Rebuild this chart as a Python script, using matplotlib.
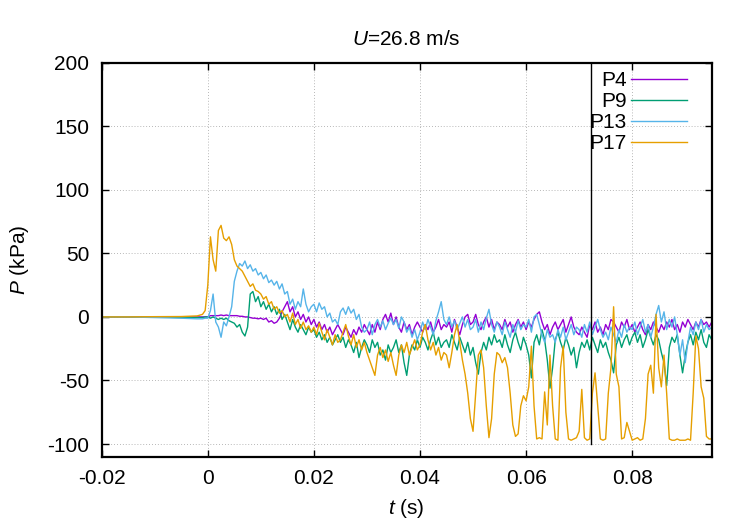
import numpy as np
import matplotlib
matplotlib.use("Agg")
import matplotlib.pyplot as plt

plt.rcParams["font.family"] = ["Liberation Sans", "DejaVu Sans"]
plt.rcParams["mathtext.fontset"] = "custom"
plt.rcParams["mathtext.rm"] = "Liberation Sans"
plt.rcParams["mathtext.it"] = "Liberation Sans:italic"
plt.rcParams["axes.unicode_minus"] = False

# times before the trigger (ms), sparse since the signal is flat there
t_pre_ms = [-20, -15, -10, -5, -2, -1, -0.5]
# after the trigger: one sample every 0.5 ms from 0 to 95 ms
t_post_ms = np.arange(0, 95.25, 0.5)

p4_pre = [0, 0, 0, 0, 0, 0, 0]
p9_pre = [0, 0, 0, -0.5, -0.5, -0.5, 0]
p13_pre = [0, 0, -0.5, -1, -1.5, -1.5, -1]
p17_pre = [0, 0, 0.2, 0.3, 0.8, 2, 5]

p4 = [0, 1, 1, 1, 1, 1.5, 1, 1.5, 1, 1,
      1, 1, 0.5, 0.5, 0, 0, -0.5, -1, -1, -1.5,
      -1, -2, -1, -4, -3, -5, -4, -1, 4, 8,
      12, 4, 8, 0, 4, -2, 2, -4, 0, -6,
      -2, -8, -4, -10, -6, -12, -8, -14, -10, -6,
      -10, -14, -8, -12, -16, -10, -14, -8, -12, -6,
      -10, -14, -6, -12, -4, -10, -2, 2, -4, 3,
      -6, 0, -8, -12, -4, -10, -6, -14, -8, -4,
      -8, -12, -6, -10, -4, -12, -8, -2, -10, -6,
      -8, -4, -12, -2, -8, -14, -6, 0, 2, -6,
      -4, 2, -6, -10, -4, 0, -8, -2, -10, -4,
      -6, -10, -2, -8, -4, -12, -6, -2, -8, -4,
      -10, -4, -8, -2, 2, 4, -4, -10, -6, -14,
      -8, -4, -10, -6, -2, -12, -6, 0, -8, -12,
      -14, -8, -12, -16, -6, -10, -4, -12, -8, -14,
      -6, -10, -2, -4, -8, -12, -4, -8, -2, -10,
      -6, -12, -8, -4, -10, -14, -6, -10, -4, -8,
      -12, -6, -10, -4, -8, -2, -10, -6, -12, -4,
      -8, -2, -6, -10, -4, -8, -2, -6, -4, -8,
      -4]

p9 = [0, -1, 0, -1, -2, -1, -2, -1, -3, -4,
      -5, -8, -6, -12, -15, -8, 18, 20, 12, 16,
      8, 12, 6, 10, 4, 8, 2, 6, -2, 2,
      -4, -10, -2, -8, -12, -6, -10, -14, -8, -12,
      -10, -16, -12, -18, -14, -20, -16, -22, -18, -14,
      -20, -16, -24, -18, -22, -28, -20, -32, -24, -18,
      -22, -28, -18, -24, -20, -30, -26, -34, -22, -28,
      -24, -18, -28, -22, -36, -46, -30, -22, -26, -18,
      -24, -16, -20, -26, -18, -12, -22, -16, -24, -20,
      -18, -24, -14, -20, -26, -16, -22, -28, -20, -30,
      -24, -36, -45, -28, -20, -26, -16, -22, -14, -20,
      -18, -24, -14, -22, -28, -18, -12, -20, -26, -16,
      -22, -30, -48, -20, -14, -22, -10, -18, -34, -56,
      -40, -18, -12, -20, -26, -16, -22, -30, -24, -40,
      -28, -20, -24, -18, -26, -16, -22, -28, -18, -24,
      -20, -28, -34, -44, -22, -16, -24, -18, -14, -22,
      -16, -12, -20, -14, -24, -18, -10, -16, -22, -14,
      -18, -28, -36, -54, -24, -16, -20, -14, -30, -44,
      -30, -20, -14, -22, -12, -18, -10, -20, -24, -14,
      -18]

p13 = [-1, 5, 18, -4, -8, -16, -4, -7, 0, 8,
       28, 36, 42, 40, 44, 38, 41, 36, 38, 33,
       35, 30, 33, 27, 29, 25, 28, 22, 26, 18,
       20, 10, 14, 6, 12, 8, 22, 10, 4, 8,
       10, 4, 11, 6, 8, 0, 3, -4, -2, -6,
       4, 7, 2, 8, 3, 6, -2, 2, -8, -12,
       -10, -4, -14, -6, -2, -8, -3, -10, -5, -1,
       -6, -2, -9, 0, -4, -12, -8, -16, -10, -18,
       -12, -4, -10, -2, -8, -14, -3, 4, 12, -2,
       -6, 0, -8, -3, -10, -5, 0, -8, -2, -10,
       -8, -2, -12, -4, -10, -1, 6, -6, -12, -4,
       -8, -14, -4, -10, -16, -6, -12, -3, -10, -6,
       -8, -2, -12, 0, 2, -6, -14, -20, -10, -16,
       -14, -20, -10, -16, -8, -18, -12, -6, -14, -8,
       -10, -16, -6, -12, -4, -14, -8, -2, -10, -16,
       -12, -18, -8, -14, -20, -10, -16, -6, -12, -8,
       -10, -4, -14, -8, -2, -12, -6, -16, -8, 2,
       9, -4, 4, -10, -2, -8, 0, -14, -30, -18,
       -36, -20, -8, -14, -4, -10, -2, -12, -6, -10,
       -8]

p17 = [25, 63, 45, 36, 68, 72, 62, 60, 63, 57,
       45, 40, 38, 36, 32, 28, 24, 26, 21, 20,
       18, 14, 16, 10, 12, 6, 8, 3, 5, 0,
       2, -4, 3, -6, -2, -9, -4, -10, -7, -12,
       -8, -14, -5, -12, -18, -10, -16, -22, -14, -20,
       -18, -12, -6, -15, -22, -14, -24, -18, -26, -20,
       -28, -34, -40, -46, -30, -24, -32, -26, -35, -28,
       -38, -46, -30, -22, -28, -20, -30, -24, -18, -26,
       -22, -12, -6, -18, -26, -20, -30, -24, -34, -28,
       -30, -40, -28, -14, -6, -20, -34, -45, -60, -80,
       -90, -60, -30, -26, -40, -70, -95, -80, -45, -28,
       -30, -36, -32, -40, -60, -85, -94, -92, -70, -62,
       -66, -55, -23, -70, -96, -95, -96, -59, -85, -30,
       -70, -96, -97, -40, -23, -75, -96, -97, -96, -95,
       -90, -57, -95, -97, -96, -60, -44, -70, -96, -97,
       -96, -60, -40, 8, -45, -55, -96, -95, -83, -90,
       -97, -96, -95, -97, -96, -80, -45, -38, -60, 2,
       -40, -55, -30, -60, -96, -97, -97, -96, -97, -97,
       -97, -96, -97, -60, -15, -25, -55, -64, -94, -96,
       -96]

series = [("P4", p4_pre, p4, "#9400d3"),
          ("P9", p9_pre, p9, "#009e73"),
          ("P13", p13_pre, p13, "#56b4e9"),
          ("P17", p17_pre, p17, "#e69f00")]

x_ticks = [-0.02, 0, 0.02, 0.04, 0.06, 0.08]
x_tick_labels = ["-0.02", "0", "0.02", "0.04", "0.06", "0.08"]
y_ticks = [-100, -50, 0, 50, 100, 150, 200]

marker_t = 0.0722  # vertical black line
marker_p = [-100, 200]

fig = plt.figure(figsize=(7.5, 5.25), dpi=100)
ax = fig.add_axes([0.1356, 0.130, 0.8134, 0.7506])

t_all = np.concatenate([t_pre_ms, t_post_ms]) / 1000.0
for name, pre, post, col in series:
    vals = np.array(pre + post, dtype=float)
    ax.plot(t_all, vals, color=col, lw=1.0, label=name)

ax.plot([marker_t, marker_t], marker_p, color="black", lw=1.0)

ax.set_xlim(-0.02, 0.095)
ax.set_ylim(-110, 200)
ax.set_xticks(x_ticks)
ax.set_xticklabels(x_tick_labels)
ax.set_yticks(y_ticks)
ax.tick_params(direction="in", length=5, width=1, top=True, right=True,
               labelsize=15, pad=9)
ax.grid(True, color="#a0a0a0", lw=0.6, linestyle=(0, (1, 2.5)))
for s in ax.spines.values():
    s.set_linewidth(1.6)

ax.set_xlabel("$t$ (s)", fontsize=15, labelpad=6)
ax.set_ylabel("$P$ (kPa)", fontsize=15, labelpad=12)
ax.set_title("$U$=26.8 m/s", fontsize=15, pad=13)

ax.legend(loc="upper right", bbox_to_anchor=(0.9595, 0.979), frameon=False,
          markerfirst=False, fontsize=15, handlelength=2.7,
          labelspacing=0.1, borderpad=0, borderaxespad=0, handletextpad=0.2)

fig.savefig("out.png", dpi=100)
